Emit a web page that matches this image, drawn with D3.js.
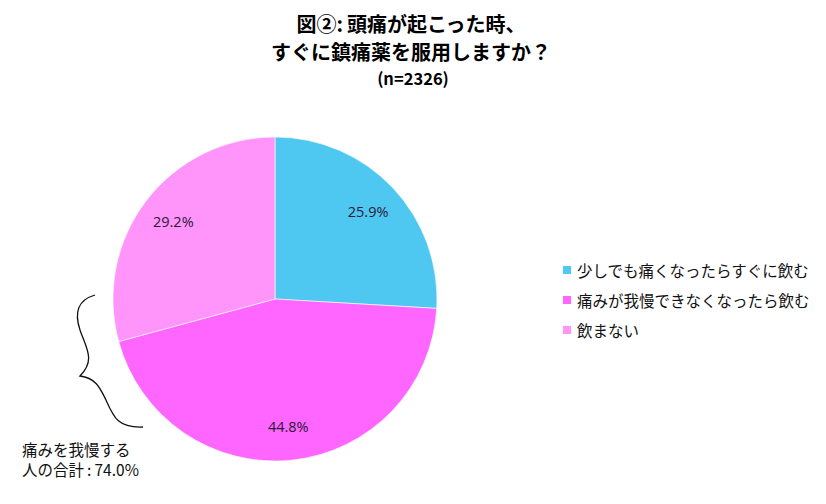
<!DOCTYPE html>
<html><head><meta charset="utf-8">
<script src="https://cdn.jsdelivr.net/npm/d3@7"></script>
<style>body{margin:0;background:#fff}svg{display:block}</style>
</head><body>
<script>
const categories = ["少しでも痛くなったらすぐに飲む", "痛みが我慢できなくなったら飲む", "飲まない"];
const values = [25.9, 44.8, 29.2];
const colors = ["#4FC8F1", "#FF66FF", "#FF94FB"];
const titleLines = ["図②:\u2009頭痛が起こった時、", "すぐに鎮痛薬を服用しますか？", "(n=2326)"];
const noteLines = ["痛みを我慢する", "人の合計\u2009:\u200974.0%"];

const W = 826, H = 504;
const svg = d3.select("body").append("svg").attr("width", W).attr("height", H);
const font = "'Noto Sans CJK JP', 'Noto Sans', sans-serif";

// title
svg.append("text").attr("x", 411).attr("y", 32).attr("text-anchor", "middle")
  .attr("font-family", font).attr("font-weight", "bold").attr("font-size", 20).text(titleLines[0]);
svg.append("text").attr("x", 411).attr("y", 60).attr("text-anchor", "middle")
  .attr("font-family", font).attr("font-weight", "bold").attr("font-size", 20).text(titleLines[1]);
svg.append("text").attr("x", 413).attr("y", 85).attr("text-anchor", "middle")
  .attr("font-family", font).attr("font-weight", "bold").attr("font-size", 16.5).text(titleLines[2]);

// pie
const cx = 275, cy = 299, r = 162;
const pie = d3.pie().sort(null).value(d => d)(values);
const arc = d3.arc().innerRadius(0).outerRadius(r);
const labelArc = d3.arc().innerRadius(128).outerRadius(128);
const g = svg.append("g").attr("transform", `translate(${cx},${cy})`);
g.selectAll("path").data(pie).join("path")
  .attr("d", arc).attr("fill", (d, i) => colors[i])
  .attr("stroke", "#ffffff").attr("stroke-opacity", 0.6).attr("stroke-width", 1);
g.selectAll("text").data(pie).join("text")
  .attr("transform", d => `translate(${labelArc.centroid(d)})`)
  .attr("text-anchor", "middle").attr("dominant-baseline", "central")
  .attr("font-family", "'Open Sans', 'Noto Sans', sans-serif").attr("font-size", 14.5)
  .attr("fill", "#2a1838")
  .text(d => d.data.toFixed(1) + "%");

// legend
const lg = svg.append("g").attr("transform", "translate(563,270)");
categories.forEach((c, i) => {
  const row = lg.append("g").attr("transform", `translate(0,${i * 30})`);
  row.append("rect").attr("x", 0).attr("y", -4).attr("width", 8).attr("height", 8).attr("fill", colors[i]);
  row.append("text").attr("x", 14).attr("y", 0).attr("dominant-baseline", "central")
    .attr("font-family", font).attr("font-size", 15.5).attr("fill", "#111").text(c);
});

// brace
svg.append("path")
  .attr("d", "M95,295 C78,300 74,312 80,330 C86,348 96,360 80,376 C96,378 100,388 106,400 C114,418 118,428 143,427")
  .attr("fill", "none").attr("stroke", "#111").attr("stroke-width", 1.3);

// note
noteLines.forEach((t, i) => {
  svg.append("text").attr("x", 22).attr("y", 456 + i * 20)
    .attr("font-family", font).attr("font-size", 15.5).attr("fill", "#111").text(t);
});
</script>
</body></html>
